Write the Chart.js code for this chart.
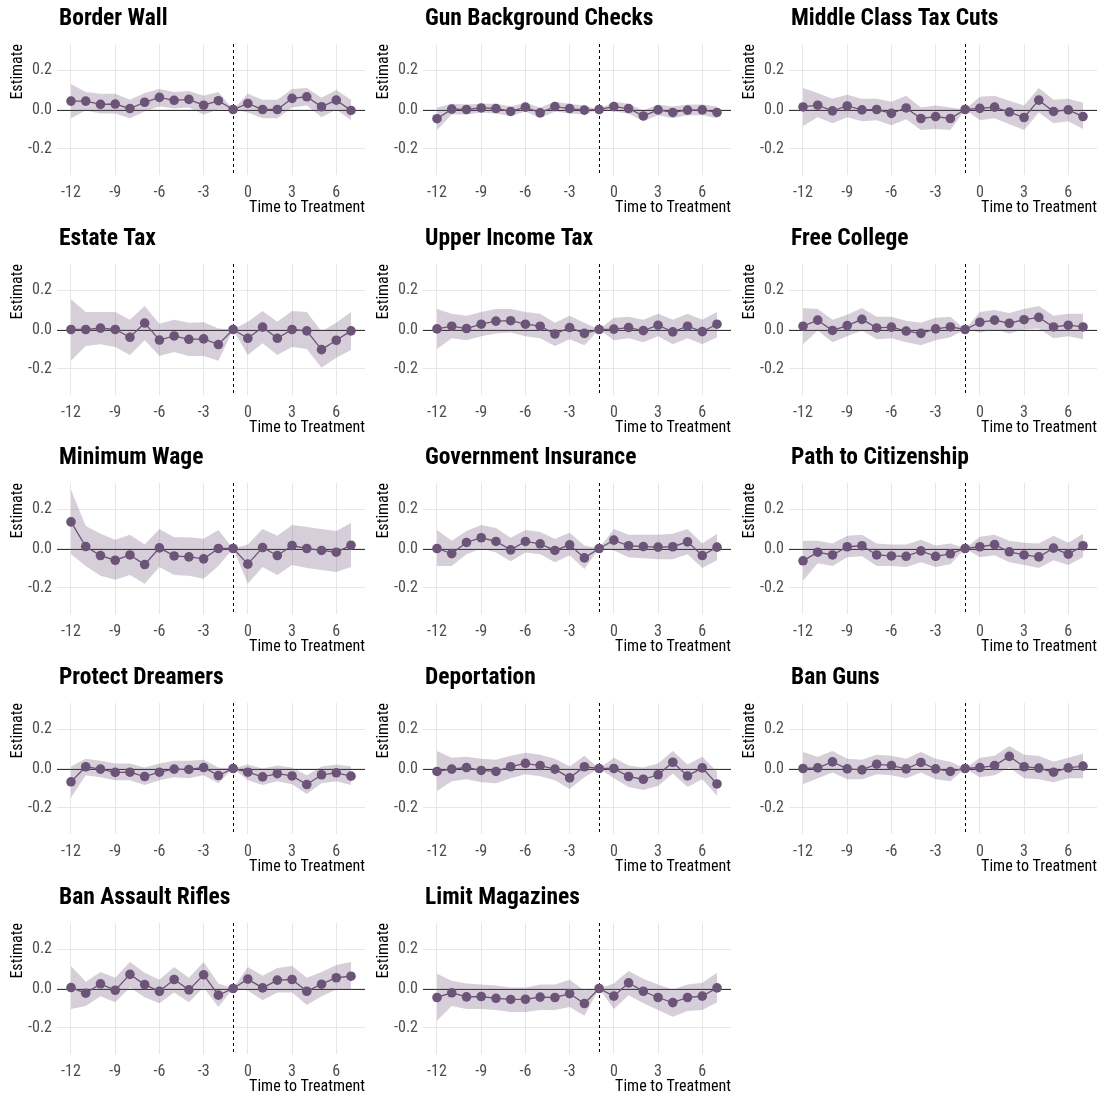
<!DOCTYPE html>
<html>
<head>
<meta charset="utf-8">
<script src="https://cdn.jsdelivr.net/npm/chart.js@4"></script>
<style>
  body { margin: 0; background: #fff; }
  #wrap { position: relative; width: 1099px; height: 1093px; }
  #wrap canvas { position: absolute; }
</style>
</head>
<body>
<div id="wrap"></div>
<script>
// event time, relative to treatment
const periods = [-12, -11, -10, -9, -8, -7, -6, -5, -4, -3, -2, -1, 0, 1, 2, 3, 4, 5, 6, 7];
const xTicks = [-12, -9, -6, -3, 0, 3, 6];
const yTicks = [-0.2, 0, 0.2];

const borderWallEst = [0.043, 0.043, 0.026, 0.028, 0.005, 0.037, 0.062, 0.047, 0.052, 0.022, 0.045, 0, 0.031, 0, 0, 0.057, 0.065, 0.014, 0.048, -0.005];
const borderWallHi = [0.13, 0.09, 0.08, 0.08, 0.05, 0.085, 0.105, 0.09, 0.095, 0.07, 0.09, 0, 0.08, 0.05, 0.05, 0.105, 0.11, 0.06, 0.1, 0.05];
const borderWallLo = [-0.045, -0.005, -0.02, -0.02, -0.045, -0.01, 0.015, 0.005, 0.01, -0.025, 0, 0, -0.015, -0.045, -0.045, 0.01, 0.02, -0.04, 0, -0.055];

const gunChecksEst = [-0.047, 0.002, 0, 0.008, 0.005, -0.01, 0.012, -0.017, 0.015, 0.005, -0.003, 0, 0.015, 0.005, -0.033, -0.002, -0.015, -0.003, -0.002, -0.015];
const gunChecksHi = [0.01, 0.03, 0.025, 0.03, 0.03, 0.015, 0.035, 0.01, 0.04, 0.03, 0.02, 0, 0.04, 0.03, -0.005, 0.025, 0.015, 0.025, 0.025, 0.015];
const gunChecksLo = [-0.105, -0.025, -0.025, -0.015, -0.02, -0.035, -0.01, -0.045, -0.01, -0.02, -0.025, 0, -0.01, -0.02, -0.06, -0.03, -0.045, -0.03, -0.03, -0.045];

const middleTaxEst = [0.013, 0.022, -0.007, 0.018, -0.002, 0, -0.02, 0.008, -0.046, -0.036, -0.046, 0, 0.006, 0.012, -0.013, -0.041, 0.048, -0.01, -0.002, -0.036];
const middleTaxHi = [0.11, 0.085, 0.055, 0.075, 0.055, 0.055, 0.04, 0.07, 0.01, 0.02, 0.01, 0, 0.065, 0.07, 0.045, 0.02, 0.11, 0.05, 0.055, 0.035];
const middleTaxLo = [-0.085, -0.04, -0.07, -0.04, -0.06, -0.055, -0.08, -0.05, -0.105, -0.1, -0.105, 0, -0.055, -0.045, -0.075, -0.105, -0.015, -0.07, -0.06, -0.1];

const estateTaxEst = [0, 0, 0.007, 0, -0.04, 0.033, -0.054, -0.033, -0.05, -0.048, -0.077, 0, -0.045, 0.012, -0.045, 0, -0.007, -0.103, -0.055, -0.007];
const estateTaxHi = [0.155, 0.09, 0.09, 0.09, 0.05, 0.12, 0.03, 0.05, 0.035, 0.037, 0.005, 0, 0.04, 0.095, 0.04, 0.095, 0.09, -0.01, 0.035, 0.09];
const estateTaxLo = [-0.16, -0.085, -0.075, -0.09, -0.13, -0.055, -0.135, -0.115, -0.135, -0.135, -0.16, 0, -0.13, -0.07, -0.13, -0.09, -0.1, -0.195, -0.145, -0.105];

const upperTaxEst = [0.003, 0.017, 0.005, 0.027, 0.043, 0.045, 0.027, 0.017, -0.023, 0.01, -0.02, 0, 0.002, 0.01, -0.006, 0.022, -0.012, 0.017, -0.011, 0.027];
const upperTaxHi = [0.105, 0.08, 0.07, 0.09, 0.105, 0.105, 0.09, 0.08, 0.035, 0.07, 0.035, 0, 0.06, 0.065, 0.05, 0.08, 0.05, 0.08, 0.05, 0.09];
const upperTaxLo = [-0.1, -0.045, -0.055, -0.035, -0.02, -0.015, -0.035, -0.045, -0.085, -0.05, -0.08, 0, -0.055, -0.045, -0.065, -0.035, -0.075, -0.045, -0.075, -0.04];

const freeCollegeEst = [0.017, 0.048, -0.005, 0.02, 0.052, 0.008, 0.012, -0.008, -0.02, 0.003, 0.013, 0, 0.037, 0.048, 0.032, 0.05, 0.062, 0.013, 0.022, 0.013];
const freeCollegeHi = [0.11, 0.105, 0.05, 0.075, 0.11, 0.065, 0.065, 0.045, 0.035, 0.06, 0.065, 0, 0.09, 0.1, 0.085, 0.105, 0.12, 0.07, 0.08, 0.08];
const freeCollegeLo = [-0.075, -0.005, -0.065, -0.035, -0.005, -0.05, -0.045, -0.065, -0.08, -0.055, -0.04, 0, -0.015, 0, -0.02, 0, 0.005, -0.045, -0.035, -0.05];

const minWageEst = [0.136, 0.01, -0.036, -0.06, -0.033, -0.082, 0.003, -0.038, -0.043, -0.053, 0, 0, -0.08, 0.005, -0.036, 0.015, 0, -0.01, -0.019, 0.017];
const minWageHi = [0.3, 0.115, 0.075, 0.045, 0.07, 0.02, 0.1, 0.058, 0.057, 0.05, 0.095, 0, 0.02, 0.1, 0.065, 0.12, 0.11, 0.1, 0.09, 0.13];
const minWageLo = [-0.03, -0.09, -0.14, -0.16, -0.135, -0.18, -0.095, -0.135, -0.14, -0.155, -0.09, 0, -0.18, -0.095, -0.135, -0.085, -0.1, -0.11, -0.12, -0.095];

const govInsEst = [0, -0.026, 0.031, 0.055, 0.036, -0.007, 0.036, 0.024, -0.01, 0.019, -0.048, 0, 0.043, 0.014, 0.01, 0.007, 0.009, 0.034, -0.036, 0.007];
const govInsHi = [0.095, 0.04, 0.09, 0.12, 0.105, 0.055, 0.095, 0.085, 0.05, 0.08, 0.015, 0, 0.1, 0.07, 0.07, 0.07, 0.075, 0.1, 0.025, 0.075];
const govInsLo = [-0.09, -0.09, -0.03, 0, -0.02, -0.065, -0.02, -0.03, -0.07, -0.035, -0.105, 0, -0.01, -0.045, -0.05, -0.055, -0.055, -0.03, -0.1, -0.06];

const citizenshipEst = [-0.063, -0.019, -0.033, 0.009, 0.014, -0.033, -0.038, -0.04, -0.012, -0.04, -0.027, 0, 0.009, 0.02, -0.017, -0.033, -0.043, 0.002, -0.029, 0.014];
const citizenshipHi = [0.04, 0.04, 0.025, 0.065, 0.07, 0.025, 0.02, 0.02, 0.045, 0.015, 0.025, 0, 0.06, 0.07, 0.04, 0.03, 0.025, 0.065, 0.03, 0.075];
const citizenshipLo = [-0.165, -0.075, -0.09, -0.045, -0.04, -0.09, -0.09, -0.095, -0.07, -0.095, -0.08, 0, -0.045, -0.035, -0.07, -0.085, -0.1, -0.06, -0.085, -0.045];

const dreamersEst = [-0.068, 0.009, -0.003, -0.02, -0.019, -0.041, -0.019, -0.003, -0.005, 0.005, -0.036, 0, -0.019, -0.043, -0.026, -0.038, -0.082, -0.032, -0.022, -0.039];
const dreamersHi = [0.01, 0.05, 0.04, 0.025, 0.025, 0.005, 0.025, 0.04, 0.04, 0.045, 0.005, 0, 0.02, 0, 0.015, 0.005, -0.035, 0.01, 0.02, 0.01];
const dreamersLo = [-0.15, -0.035, -0.045, -0.06, -0.06, -0.085, -0.06, -0.045, -0.05, -0.035, -0.075, 0, -0.06, -0.085, -0.065, -0.08, -0.13, -0.075, -0.065, -0.085];

const deportationEst = [-0.015, -0.003, 0.005, -0.01, -0.015, 0.009, 0.026, 0.015, -0.003, -0.048, 0.009, 0, 0, -0.041, -0.055, -0.032, 0.032, -0.038, 0.003, -0.079];
const deportationHi = [0.09, 0.055, 0.06, 0.05, 0.045, 0.065, 0.08, 0.07, 0.05, 0.01, 0.065, 0, 0.055, 0.015, 0.005, 0.025, 0.09, 0.02, 0.06, -0.015];
const deportationLo = [-0.115, -0.065, -0.055, -0.07, -0.075, -0.05, -0.03, -0.04, -0.06, -0.105, -0.045, 0, -0.05, -0.095, -0.11, -0.09, -0.025, -0.095, -0.055, -0.14];

const banGunsEst = [0, 0.003, 0.034, -0.002, -0.007, 0.022, 0.015, -0.002, 0.031, -0.002, -0.015, 0, 0.005, 0.015, 0.062, 0.009, 0.002, -0.019, 0.003, 0.012];
const banGunsHi = [0.085, 0.06, 0.09, 0.05, 0.045, 0.07, 0.065, 0.05, 0.085, 0.05, 0.035, 0, 0.055, 0.065, 0.115, 0.07, 0.065, 0.035, 0.055, 0.075];
const banGunsLo = [-0.08, -0.05, -0.02, -0.055, -0.055, -0.03, -0.035, -0.05, -0.02, -0.055, -0.065, 0, -0.045, -0.035, 0.005, -0.05, -0.055, -0.07, -0.05, -0.05];

const assaultEst = [0.005, -0.024, 0.024, -0.009, 0.072, 0.02, -0.014, 0.046, -0.007, 0.07, -0.034, 0, 0.048, 0.003, 0.043, 0.046, -0.014, 0.022, 0.055, 0.063];
const assaultHi = [0.115, 0.035, 0.085, 0.055, 0.135, 0.08, 0.045, 0.11, 0.055, 0.135, 0.025, 0, 0.11, 0.065, 0.105, 0.115, 0.055, 0.085, 0.12, 0.135];
const assaultLo = [-0.105, -0.09, -0.04, -0.07, 0.005, -0.045, -0.075, -0.02, -0.07, 0.005, -0.095, 0, -0.01, -0.06, -0.02, -0.02, -0.085, -0.04, -0.005, -0.005];

const magazinesEst = [-0.046, -0.022, -0.043, -0.041, -0.05, -0.056, -0.055, -0.044, -0.046, -0.026, -0.077, 0, -0.039, 0.029, -0.014, -0.046, -0.072, -0.046, -0.039, 0.003];
const magazinesHi = [0.075, 0.04, 0.025, 0.02, 0.015, 0.005, 0.005, 0.02, 0.02, 0.045, -0.01, 0, 0.025, 0.09, 0.05, 0.02, -0.005, 0.02, 0.03, 0.08];
const magazinesLo = [-0.165, -0.09, -0.105, -0.105, -0.11, -0.12, -0.12, -0.11, -0.11, -0.095, -0.14, 0, -0.105, -0.035, -0.075, -0.11, -0.145, -0.115, -0.11, -0.07];

const panels = [
    ['Border Wall', borderWallEst, borderWallLo, borderWallHi],
    ['Gun Background Checks', gunChecksEst, gunChecksLo, gunChecksHi],
    ['Middle Class Tax Cuts', middleTaxEst, middleTaxLo, middleTaxHi],
    ['Estate Tax', estateTaxEst, estateTaxLo, estateTaxHi],
    ['Upper Income Tax', upperTaxEst, upperTaxLo, upperTaxHi],
    ['Free College', freeCollegeEst, freeCollegeLo, freeCollegeHi],
    ['Minimum Wage', minWageEst, minWageLo, minWageHi],
    ['Government Insurance', govInsEst, govInsLo, govInsHi],
    ['Path to Citizenship', citizenshipEst, citizenshipLo, citizenshipHi],
    ['Protect Dreamers', dreamersEst, dreamersLo, dreamersHi],
    ['Deportation', deportationEst, deportationLo, deportationHi],
    ['Ban Guns', banGunsEst, banGunsLo, banGunsHi],
    ['Ban Assault Rifles', assaultEst, assaultLo, assaultHi],
    ['Limit Magazines', magazinesEst, magazinesLo, magazinesHi]
];

const FONT = "'Roboto Condensed', 'Liberation Sans Narrow', Roboto, sans-serif";
const PURPLE = '#6c5478';
const BAND = 'rgba(108, 84, 120, 0.28)';

// zero line, treatment line and panel title
const extras = {
    id: 'extras',
    beforeDatasetsDraw(chart) {
        const ctx = chart.ctx, a = chart.chartArea;
        const y0 = Math.round(chart.scales.y.getPixelForValue(0)) + 0.5;
        const xv = Math.round(chart.scales.x.getPixelForValue(-1)) + 0.5;
        ctx.save();
        ctx.strokeStyle = '#333';
        ctx.lineWidth = 1;
        ctx.beginPath();
        ctx.moveTo(a.left, y0);
        ctx.lineTo(a.right, y0);
        ctx.stroke();
        ctx.setLineDash([3, 3]);
        ctx.strokeStyle = '#000';
        ctx.beginPath();
        ctx.moveTo(xv, a.top);
        ctx.lineTo(xv, a.bottom);
        ctx.stroke();
        ctx.restore();
    },
    afterDraw(chart) {
        const ctx = chart.ctx;
        ctx.save();
        ctx.font = 'bold 23.5px ' + FONT;
        ctx.fillStyle = '#000';
        ctx.textBaseline = 'alphabetic';
        ctx.fillText(chart.options.panelTitle, 59, 25);
        ctx.restore();
    }
};

const wrap = document.getElementById('wrap');

panels.forEach(function(p, i) {
    const col = i % 3, row = Math.floor(i / 3);
    const canvas = document.createElement('canvas');
    canvas.width = 366;
    canvas.height = 220;
    canvas.style.left = (col * 366) + 'px';
    canvas.style.top = Math.round(row * 219.7) + 'px';
    wrap.appendChild(canvas);

    const pts = function(arr) { return periods.map(function(t, k) { return {x: t, y: arr[k]}; }); };

    new Chart(canvas.getContext('2d'), {
        type: 'line',
        data: {
            datasets: [{
                label: 'Estimate',
                data: pts(p[1]),
                borderColor: PURPLE,
                borderWidth: 1.3,
                pointRadius: 4.8,
                pointBorderWidth: 0,
                pointBackgroundColor: PURPLE,
                fill: false
            }, {
                label: 'lower',
                data: pts(p[2]),
                borderWidth: 0,
                pointRadius: 0,
                fill: false
            }, {
                label: 'upper',
                data: pts(p[3]),
                borderWidth: 0,
                pointRadius: 0,
                backgroundColor: BAND,
                fill: '-1'
            }]
        },
        options: {
            panelTitle: p[0],
            responsive: false,
            animation: false,
            devicePixelRatio: 1,
            layout: { autoPadding: false, padding: { top: 44, right: 1, left: 0, bottom: 0 } },
            plugins: { legend: { display: false }, tooltip: { enabled: false } },
            scales: {
                x: {
                    type: 'linear',
                    min: -12.95,
                    max: 7.95,
                    afterBuildTicks: function(s) { s.ticks = xTicks.map(function(v) { return {value: v}; }); },
                    afterFit: function(s) { s.height = 45; s.paddingLeft = 0; s.paddingRight = 0; },
                    grid: { color: '#e6e6e6', lineWidth: 1, drawTicks: false },
                    border: { display: false },
                    ticks: { padding: 8, color: '#4d4d4d', font: { family: FONT, size: 16 }, maxRotation: 0 },
                    title: { display: true, text: 'Time to Treatment', align: 'end', color: '#000', font: { family: FONT, size: 16 }, padding: { top: 0, bottom: 2 } }
                },
                y: {
                    min: -0.335,
                    max: 0.335,
                    afterBuildTicks: function(s) { s.ticks = yTicks.map(function(v) { return {value: v}; }); },
                    afterFit: function(s) { s.width = 57; s.paddingTop = 0; s.paddingBottom = 0; },
                    grid: { color: '#e6e6e6', lineWidth: 1, drawTicks: false },
                    border: { display: false },
                    ticks: { padding: 5, color: '#4d4d4d', font: { family: FONT, size: 16 }, callback: function(v) { return v.toFixed(1); } },
                    title: { display: true, text: 'Estimate', align: 'end', color: '#000', font: { family: FONT, size: 16 }, padding: { top: 8, bottom: 0 } }
                }
            }
        },
        plugins: [extras]
    });
});
</script>
</body>
</html>
